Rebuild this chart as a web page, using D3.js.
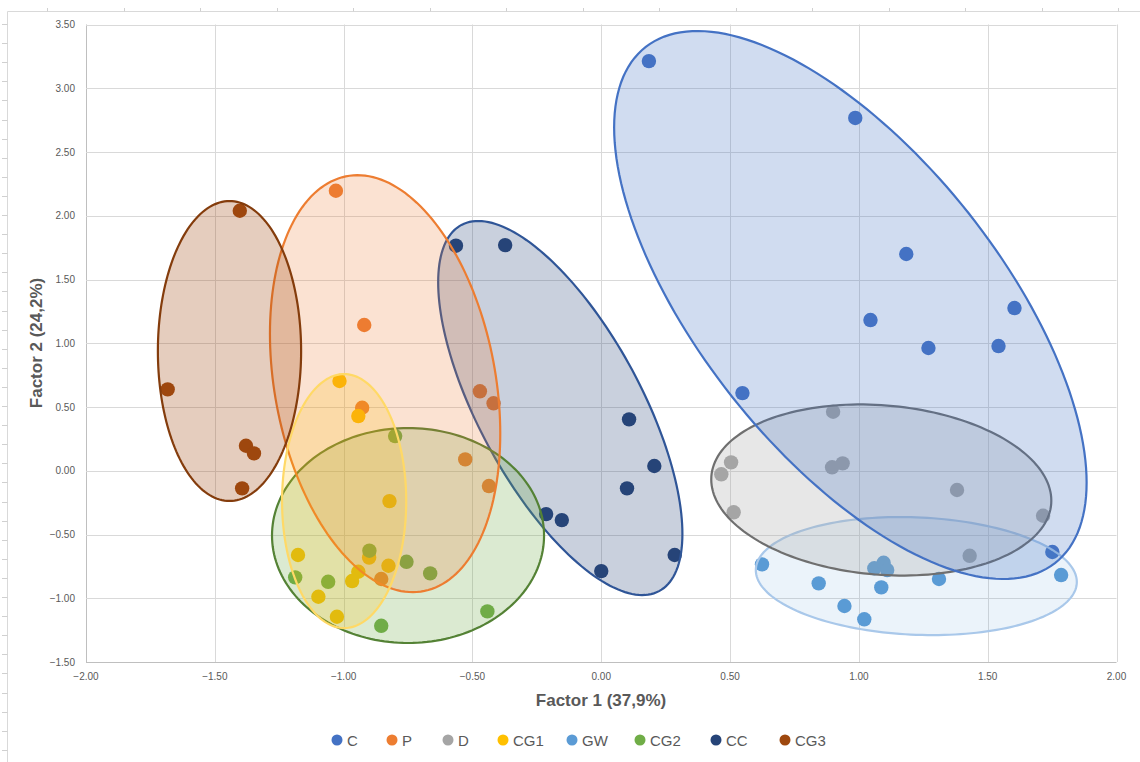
<!DOCTYPE html>
<html>
<head>
<meta charset="utf-8">
<script src="https://d3js.org/d3.v7.min.js"></script>
<style>
  body { margin: 0; background: #fff; font-family: "Liberation Sans Narrow", "Liberation Sans", Arial, sans-serif; }
  .tick-label { fill: #595959; font-size: 10px; }
  .axis-title { fill: #595959; font-size: 17px; font-weight: bold; }
  .legend text { fill: #595959; font-size: 15px; }
</style>
</head>
<body>
<div id="viz"></div>
<script>

// groups, in legend order
const groups = ["C", "P", "D", "CG1", "GW", "CG2", "CC", "CG3"];

// factor scores [Factor 1, Factor 2] for each group
const ptsC = [[0.185, 3.213], [0.986, 2.767], [1.184, 1.700], [1.045, 1.182], [1.604, 1.276],
              [1.270, 0.963], [1.542, 0.978], [0.548, 0.609], [1.751, -0.637]];
const ptsP = [[-1.030, 2.196], [-0.920, 1.143], [-0.928, 0.494], [-0.471, 0.623],
              [-0.418, 0.529], [-0.528, 0.089], [-0.436, -0.120], [-0.854, -0.849]];
const ptsD = [[0.900, 0.463], [0.504, 0.066], [0.466, -0.028], [0.514, -0.326], [0.896, 0.027],
              [0.937, 0.058], [1.381, -0.151], [1.715, -0.353], [1.430, -0.667]];
const ptsCG1 = [[-1.016, 0.704], [-0.943, 0.429], [-0.822, -0.238], [-1.177, -0.661], [-0.901, -0.681],
                [-0.826, -0.745], [-0.943, -0.792], [-0.967, -0.865], [-1.098, -0.988], [-1.026, -1.145]];
const ptsGW = [[0.624, -0.734], [0.844, -0.883], [0.944, -1.061], [1.021, -1.165], [1.087, -0.915],
               [1.060, -0.765], [1.096, -0.722], [1.110, -0.779], [1.311, -0.849], [1.785, -0.818]];
const ptsCG2 = [[-0.800, 0.272], [-0.900, -0.627], [-0.756, -0.714], [-0.664, -0.805],
                [-1.188, -0.836], [-1.060, -0.871], [-0.854, -1.216], [-0.442, -1.103]];
const ptsCC = [[-0.564, 1.765], [-0.373, 1.770], [0.108, 0.403], [0.206, 0.037], [0.100, -0.138],
               [-0.214, -0.340], [-0.153, -0.387], [0.285, -0.661], [0.000, -0.787]];
const ptsCG3 = [[-1.403, 2.039], [-1.683, 0.638], [-1.379, 0.196], [-1.348, 0.136], [-1.394, -0.138]];

// group ellipses: centre, half extent along each factor, and tilt (correlation)
const ellCx   = [0.967, -0.839, 1.087, -0.998, 1.223, -0.750, -0.159, -1.443];
const ellCy   = [1.300, 0.683, -0.151, -0.238, -0.826, -0.508, 0.492, 0.939];
const ellSx   = [0.917, 0.447, 0.660, 0.241, 0.623, 0.528, 0.474, 0.278];
const ellSy   = [2.149, 1.635, 0.671, 0.996, 0.463, 0.843, 1.467, 1.176];
const ellCorr = [-0.648, -0.239, -0.124, 0, -0.10, 0, -0.672, 0];

// axis ticks
const xTicks = [-2, -1.5, -1, -0.5, 0, 0.5, 1, 1.5, 2];
const yTicks = [-1.5, -1, -0.5, 0, 0.5, 1, 1.5, 2, 2.5, 3, 3.5];

const points = [ptsC, ptsP, ptsD, ptsCG1, ptsGW, ptsCG2, ptsCC, ptsCG3];

// styles
const dotColor   = ["#4472C4", "#ED7D31", "#A5A5A5", "#FFC000", "#5B9BD5", "#70AD47", "#264478", "#9E480E"];
const lineColor  = ["#4472C4", "#ED7D31", "#6F6F6F", "#FFD966", "#A9C8EA", "#548235", "#2F5597", "#843C0C"];
const fillAlpha  = [0.25, 0.22, 0.27, 0.2, 0.12, 0.25, 0.25, 0.27];
const ellOrder   = [4, 2, 0, 6, 5, 1, 3, 7];

const W = 1140, H = 762;
const svg = d3.select("#viz").append("svg")
    .attr("width", W)
    .attr("height", H);

// sheet frame and ruler ticks
svg.append("line").attr("x1", 7.5).attr("x2", 7.5).attr("y1", 11.5).attr("y2", H)
  .attr("stroke", "#d9d9d9");
svg.append("line").attr("x1", 7.5).attr("x2", W).attr("y1", 11.5).attr("y2", 11.5)
  .attr("stroke", "#d9d9d9");
svg.append("g").selectAll("line")
  .data(d3.range(24, H, 19.1))
  .enter().append("line")
    .attr("x1", 2).attr("x2", 7.5)
    .attr("y1", d => Math.round(d) + 0.5).attr("y2", d => Math.round(d) + 0.5)
    .attr("stroke", "#d0d0d0");
svg.append("g").selectAll("line")
  .data(d3.range(47, W, 76.5))
  .enter().append("line")
    .attr("x1", d => Math.round(d) + 0.5).attr("x2", d => Math.round(d) + 0.5)
    .attr("y1", 8).attr("y2", 11.5)
    .attr("stroke", "#d0d0d0");

const x = d3.scaleLinear().domain([-2, 2]).range([86, 1116.5]);
const y = d3.scaleLinear().domain([-1.5, 3.5]).range([662, 24.5]);

// gridlines
svg.append("g").selectAll("line")
  .data(xTicks)
  .enter().append("line")
    .attr("x1", d => Math.round(x(d)) + 0.5).attr("x2", d => Math.round(x(d)) + 0.5)
    .attr("y1", y(3.5)).attr("y2", y(-1.5))
    .attr("stroke", d => d === -2 ? "#bfbfbf" : "#d9d9d9");
svg.append("g").selectAll("line")
  .data(yTicks)
  .enter().append("line")
    .attr("x1", x(-2)).attr("x2", x(2))
    .attr("y1", d => Math.round(y(d)) + 0.5).attr("y2", d => Math.round(y(d)) + 0.5)
    .attr("stroke", d => d === -1.5 ? "#bfbfbf" : "#d9d9d9");

// tick labels
svg.append("g").selectAll("text")
  .data(xTicks)
  .enter().append("text")
    .attr("class", "tick-label")
    .attr("x", d => x(d))
    .attr("y", 680)
    .attr("text-anchor", "middle")
    .text(d3.format(".2f"));
svg.append("g").selectAll("text")
  .data(yTicks)
  .enter().append("text")
    .attr("class", "tick-label")
    .attr("x", 75)
    .attr("y", d => y(d) + 3.5)
    .attr("text-anchor", "end")
    .text(d3.format(".2f"));

// axis titles
svg.append("text")
  .attr("class", "axis-title")
  .attr("x", 601).attr("y", 706)
  .attr("text-anchor", "middle")
  .text("Factor 1 (37,9%)");
svg.append("text")
  .attr("class", "axis-title")
  .attr("transform", "translate(42,343) rotate(-90)")
  .attr("text-anchor", "middle")
  .text("Factor 2 (24,2%)");

// points
groups.forEach((g, i) => {
  svg.append("g").selectAll("circle")
    .data(points[i])
    .enter().append("circle")
      .attr("cx", d => x(d[0]))
      .attr("cy", d => y(d[1]))
      .attr("r", 7.2)
      .attr("fill", dotColor[i]);
});

// ellipses drawn over the points, like the shapes in the original
const ts = d3.range(0, 2 * Math.PI, Math.PI / 90);
const ellLine = d3.line().curve(d3.curveLinearClosed);
ellOrder.forEach(i => {
  const r = ellCorr[i], q = Math.sqrt(1 - r * r);
  const pts = ts.map(t => [
    x(ellCx[i] + ellSx[i] * Math.cos(t)),
    y(ellCy[i] + ellSy[i] * (r * Math.cos(t) + q * Math.sin(t)))
  ]);
  svg.append("path")
    .attr("d", ellLine(pts))
    .attr("fill", dotColor[i])
    .attr("fill-opacity", fillAlpha[i])
    .attr("stroke", lineColor[i])
    .attr("stroke-width", 2.2);
});

// legend
const legX = [337, 392, 448, 503, 572, 640, 716, 785];
const leg = svg.append("g").attr("class", "legend");
groups.forEach((g, i) => {
  leg.append("circle")
    .attr("cx", legX[i]).attr("cy", 740).attr("r", 5.5)
    .attr("fill", dotColor[i]);
  leg.append("text")
    .attr("x", legX[i] + 10).attr("y", 745.5)
    .text(g);
});

</script>
</body>
</html>
